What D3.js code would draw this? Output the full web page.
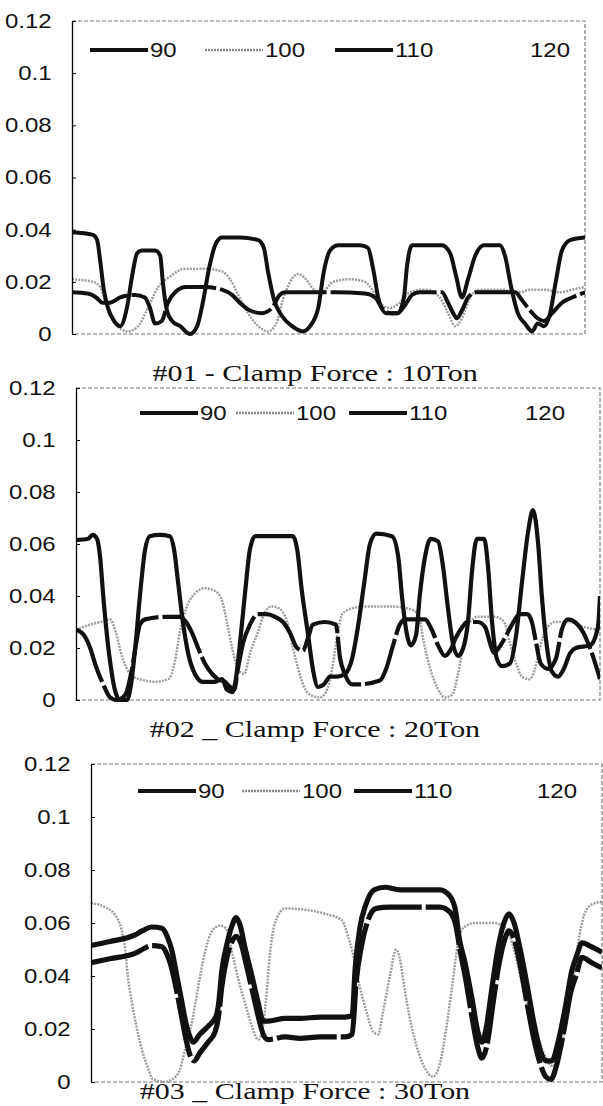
<!DOCTYPE html>
<html>
<head>
<meta charset="utf-8">
<script src="https://cdn.jsdelivr.net/npm/d3@7"></script>
<style>
  body { margin: 0; background: #fff; }
  svg { display: block; }
</style>
</head>
<body>
<div id="chart"></div>
<script>
// y axis ticks (shared by all three panels)
const yTicks = [0, 0.02, 0.04, 0.06, 0.08, 0.1, 0.12];
const tickLabels = ["0", "0.02", "0.04", "0.06", "0.08", "0.1", "0.12"];
const seriesNames = ["90", "100", "110", "120"];
const titles = ["#01 - Clamp Force : 10Ton", "#02 _ Clamp Force : 20Ton", "#03 _ Clamp Force : 30Ton"];

// panel 1 (10 Ton) - x is sample position 0..100
const p1s90 = [[0,0.039],[4.1,0.038],[4.9,0.036],[5.5,0.028],[6.2,0.017],[7.0,0.010],[8.2,0.005],[9.4,0.003],[10.7,0.010],[11.7,0.022],[12.7,0.031],[13.6,0.032],[16.2,0.032],[17.2,0.030],[17.7,0.020],[18.5,0.009],[19.5,0.005],[21.1,0.003],[23.0,0.000],[24.4,0.003],[25.5,0.012],[26.7,0.025],[27.9,0.034],[29.2,0.037],[32.7,0.037],[36.3,0.036],[37.4,0.033],[38.2,0.024],[39.4,0.013],[40.9,0.007],[42.9,0.003],[45.0,0.001],[46.4,0.003],[48.0,0.010],[49.1,0.024],[50.3,0.032],[51.9,0.034],[56.1,0.034],[57.7,0.033],[58.7,0.025],[59.8,0.013],[61.2,0.008],[63.5,0.008],[64.7,0.014],[65.3,0.026],[66.3,0.034],[72.1,0.034],[73.7,0.031],[74.9,0.022],[76.0,0.014],[77.2,0.021],[78.6,0.030],[80.3,0.034],[83.4,0.034],[84.4,0.030],[85.6,0.018],[86.9,0.008],[88.3,0.004],[89.7,0.001],[90.8,0.004],[92.0,0.003],[93.2,0.008],[94.3,0.020],[95.5,0.032],[97.1,0.036],[100,0.037]];
const p1s100 = [[0,0.021],[4.1,0.020],[5.5,0.018],[6.6,0.012],[8.0,0.005],[9.4,0.002],[10.9,0.001],[12.9,0.003],[14.8,0.010],[16.8,0.018],[19.1,0.022],[22.0,0.025],[25.9,0.025],[29.2,0.024],[30.8,0.021],[32.4,0.015],[34.3,0.008],[36.3,0.003],[38.2,0.001],[39.8,0.004],[41.1,0.013],[42.5,0.020],[44.1,0.023],[45.6,0.021],[47.2,0.017],[48.7,0.016],[50.9,0.020],[54.2,0.021],[57.1,0.020],[58.5,0.017],[60.0,0.012],[62.0,0.010],[63.9,0.012],[65.9,0.016],[68.8,0.017],[71.7,0.014],[73.3,0.008],[74.7,0.003],[76.0,0.006],[77.6,0.014],[79.5,0.017],[83.4,0.017],[87.3,0.016],[89.3,0.017],[92.2,0.017],[95.1,0.016],[97.5,0.017],[100,0.018]];
const p1s110 = [[0,0.016],[3.1,0.0155],[4.7,0.014],[6.0,0.012],[7.4,0.012],[9.4,0.014],[12.3,0.015],[14.2,0.014],[15.2,0.010],[16.2,0.004],[17.5,0.005],[18.7,0.012],[20.1,0.016],[22.2,0.018],[25.9,0.018],[29.2,0.017],[31.2,0.015],[32.7,0.012],[34.7,0.009],[37.0,0.008],[39.0,0.010],[40.5,0.015],[41.5,0.016],[48.3,0.016],[51.3,0.016],[57.1,0.0155],[59.1,0.014],[60.4,0.010],[62.0,0.008],[63.5,0.008],[64.9,0.011],[66.3,0.015],[67.8,0.016],[72.1,0.016],[73.3,0.012],[74.3,0.008],[75.0,0.006],[76.0,0.009],[77.2,0.014],[78.8,0.016],[86.4,0.016],[87.7,0.013],[89.3,0.009],[90.8,0.006],[92.0,0.005],[93.6,0.008],[95.5,0.012],[97.5,0.014],[100,0.016]];

// panel 2 (20 Ton)
const p2s90 = [[0,0.0615],[2.3,0.062],[3.2,0.0635],[4.0,0.062],[4.6,0.055],[5.2,0.040],[5.9,0.025],[6.7,0.012],[7.4,0.004],[8.4,0.000],[9.7,0.000],[10.5,0.006],[11.3,0.020],[12.2,0.040],[13.2,0.058],[14.1,0.063],[16.0,0.0635],[17.9,0.063],[18.7,0.058],[19.5,0.045],[20.4,0.030],[21.4,0.018],[22.7,0.010],[24.2,0.007],[26.5,0.007],[27.9,0.008],[28.8,0.004],[29.8,0.003],[30.5,0.008],[31.3,0.022],[32.3,0.042],[33.2,0.058],[34.2,0.063],[41.4,0.063],[42.2,0.058],[43.1,0.042],[44.3,0.025],[45.2,0.012],[46.2,0.005],[47.3,0.006],[48.5,0.009],[49.8,0.009],[51.3,0.010],[52.7,0.016],[53.8,0.028],[55.0,0.045],[56.1,0.060],[57.3,0.064],[60.3,0.063],[61.5,0.055],[62.2,0.040],[63.0,0.027],[63.9,0.021],[64.9,0.025],[65.6,0.040],[66.6,0.055],[67.7,0.062],[69.1,0.061],[70.0,0.052],[71.0,0.035],[71.9,0.022],[72.9,0.017],[73.9,0.020],[74.8,0.030],[75.6,0.050],[76.5,0.062],[77.9,0.062],[78.6,0.052],[79.4,0.030],[80.3,0.016],[81.3,0.013],[82.8,0.014],[84.0,0.025],[85.1,0.045],[86.3,0.065],[87.2,0.073],[88.2,0.060],[88.9,0.040],[89.9,0.020],[90.8,0.011],[92.0,0.009],[93.1,0.012],[94.3,0.018],[95.4,0.020],[98.1,0.021],[99.6,0.028],[100,0.040]];
const p2s100 = [[0,0.027],[2.7,0.029],[4.6,0.030],[6.5,0.031],[7.6,0.026],[8.6,0.018],[9.7,0.012],[10.9,0.009],[12.2,0.008],[15.1,0.007],[17.6,0.008],[18.9,0.015],[19.8,0.026],[21.0,0.035],[22.7,0.041],[24.6,0.043],[26.5,0.042],[27.9,0.038],[28.8,0.030],[29.8,0.020],[30.9,0.012],[32.1,0.010],[33.2,0.018],[34.7,0.026],[36.1,0.034],[37.4,0.036],[38.9,0.035],[40.3,0.030],[41.4,0.020],[42.4,0.012],[43.5,0.005],[44.7,0.002],[46.6,0.001],[47.7,0.003],[48.9,0.012],[49.8,0.024],[50.8,0.033],[52.3,0.035],[55.2,0.036],[59.9,0.036],[63.7,0.035],[65.3,0.033],[66.4,0.022],[67.6,0.012],[68.9,0.005],[70.4,0.001],[71.8,0.002],[72.9,0.010],[74.0,0.022],[75.2,0.030],[76.7,0.032],[80.0,0.032],[81.7,0.030],[82.8,0.022],[84.0,0.014],[85.1,0.009],[86.5,0.008],[87.6,0.012],[88.5,0.020],[89.7,0.027],[91.4,0.030],[94.3,0.030],[97.1,0.028],[100,0.027]];
const p2s110 = [[0,0.027],[1.5,0.025],[2.7,0.020],[3.8,0.013],[5.2,0.006],[6.5,0.001],[7.8,0.000],[9.4,0.002],[10.5,0.010],[11.5,0.022],[12.2,0.029],[13.2,0.031],[17.0,0.032],[19.8,0.032],[21.0,0.030],[22.1,0.026],[23.3,0.020],[24.6,0.014],[26.0,0.010],[27.1,0.008],[28.4,0.007],[29.4,0.005],[30.2,0.004],[30.9,0.012],[31.9,0.022],[33.2,0.029],[34.7,0.033],[36.3,0.033],[38.0,0.032],[39.5,0.030],[40.8,0.026],[42.2,0.020],[43.3,0.019],[44.3,0.024],[45.2,0.029],[47.5,0.030],[49.6,0.029],[50.4,0.016],[51.3,0.010],[52.7,0.006],[53.8,0.006],[58.0,0.0075],[59.2,0.012],[60.5,0.021],[61.8,0.029],[62.8,0.031],[66.6,0.031],[67.9,0.027],[69.1,0.021],[70.4,0.017],[71.4,0.019],[72.5,0.024],[73.7,0.028],[74.6,0.030],[76.7,0.030],[78.1,0.028],[79.0,0.022],[79.8,0.018],[80.3,0.019],[81.9,0.024],[83.2,0.029],[84.7,0.033],[86.1,0.033],[87.0,0.030],[87.8,0.022],[88.7,0.014],[90.1,0.012],[91.6,0.016],[92.7,0.027],[93.9,0.031],[95.2,0.030],[96.8,0.026],[98.1,0.020],[100,0.008]];

// panel 3 (30 Ton)
const p3s90 = [[0,0.0515],[3.7,0.053],[8.6,0.0555],[10.0,0.057],[11.9,0.0585],[13.9,0.058],[14.9,0.055],[15.9,0.049],[16.8,0.040],[17.8,0.030],[18.6,0.022],[19.2,0.018],[20.0,0.015],[21.3,0.018],[22.9,0.021],[24.5,0.025],[25.0,0.030],[25.6,0.042],[26.6,0.052],[27.6,0.059],[28.4,0.062],[29.2,0.059],[30.1,0.051],[31.5,0.040],[32.7,0.030],[33.7,0.023],[34.6,0.023],[38.0,0.024],[40.9,0.024],[44.8,0.0245],[49.7,0.0245],[51.1,0.025],[51.7,0.043],[52.6,0.058],[53.8,0.067],[55.4,0.0725],[57.5,0.0735],[60.5,0.0725],[68.3,0.0725],[70.3,0.070],[71.4,0.064],[72.0,0.055],[73.2,0.045],[74.6,0.031],[75.7,0.019],[76.5,0.015],[77.3,0.020],[78.5,0.036],[79.6,0.050],[80.8,0.060],[81.8,0.0635],[82.8,0.060],[84.0,0.050],[85.3,0.037],[86.7,0.022],[87.9,0.012],[89.0,0.008],[90.2,0.008],[91.4,0.015],[92.8,0.028],[94.1,0.042],[95.1,0.048],[96.1,0.0525],[98.0,0.051],[100,0.049]];
const p3s100 = [[0,0.0675],[2.7,0.066],[4.7,0.063],[5.9,0.058],[6.7,0.050],[7.2,0.040],[8.0,0.030],[9.0,0.020],[10.0,0.012],[11.2,0.005],[12.1,0.001],[14.5,0.000],[17.0,0.003],[18.4,0.012],[19.8,0.023],[20.9,0.035],[22.3,0.049],[23.7,0.057],[25.2,0.059],[26.4,0.058],[27.6,0.049],[28.8,0.039],[30.1,0.030],[31.5,0.021],[32.7,0.016],[33.5,0.019],[34.2,0.030],[35.0,0.048],[36.0,0.060],[38.0,0.0655],[41.9,0.065],[45.8,0.0635],[49.1,0.061],[50.3,0.055],[51.3,0.048],[52.6,0.036],[54.0,0.026],[55.2,0.019],[56.2,0.018],[57.1,0.026],[58.5,0.040],[59.7,0.050],[60.5,0.046],[61.3,0.036],[62.4,0.024],[63.8,0.013],[65.4,0.005],[66.9,0.002],[68.3,0.007],[69.5,0.020],[70.6,0.035],[71.8,0.052],[72.8,0.058],[75.1,0.060],[78.7,0.060],[81.2,0.058],[82.8,0.050],[84.0,0.040],[85.5,0.028],[87.3,0.018],[88.8,0.010],[90.4,0.006],[91.8,0.012],[93.2,0.025],[94.3,0.038],[95.3,0.052],[96.5,0.063],[98.0,0.067],[100,0.068]];
const p3s110 = [[0,0.045],[3.7,0.0465],[8.6,0.0485],[10.0,0.050],[11.9,0.0515],[13.9,0.051],[14.9,0.048],[15.9,0.042],[16.8,0.034],[17.8,0.024],[18.6,0.016],[19.4,0.010],[20.2,0.008],[21.3,0.011],[22.9,0.015],[24.3,0.019],[24.9,0.024],[25.6,0.036],[26.6,0.047],[27.6,0.053],[28.4,0.055],[29.4,0.052],[30.3,0.045],[31.5,0.035],[32.7,0.025],[33.7,0.018],[34.6,0.016],[38.0,0.017],[40.9,0.0165],[44.8,0.017],[49.7,0.017],[51.1,0.018],[51.9,0.038],[53.0,0.052],[54.2,0.061],[55.8,0.0655],[58.5,0.066],[68.3,0.066],[70.3,0.064],[71.4,0.059],[72.2,0.050],[73.4,0.038],[74.6,0.024],[75.7,0.013],[76.5,0.009],[77.5,0.014],[78.7,0.030],[79.8,0.044],[81.0,0.054],[81.8,0.057],[82.8,0.054],[84.0,0.044],[85.3,0.030],[86.7,0.016],[87.9,0.007],[89.0,0.002],[90.0,0.001],[91.2,0.007],[92.6,0.020],[93.9,0.034],[94.9,0.040],[96.1,0.047],[98.0,0.045],[100,0.043]];

const panelData = [
  [p1s90, p1s100, p1s110, []],
  [p2s90, p2s100, p2s110, []],
  [p3s90, p3s100, p3s110, []]
];

// layout of each panel in the 603x1106 page
const panels = [
  { left: 72, right: 585, top: 21, bottom: 334, titleX: 315, titleY: 381, legendY: 50, legendX: [18, 133, 263, 398], lw: 4 },
  { left: 76, right: 600, top: 388, bottom: 700, titleX: 315, titleY: 737, legendY: 413, legendX: [64, 160, 273, 389], lw: 4.2 },
  { left: 91, right: 602, top: 764, bottom: 1082, titleX: 305, titleY: 1099, legendY: 791, legendX: [47, 151, 263, 386], lw: 5.2 }
];

const colors = ["#111", "#9c9c9c", "#111", "#fff"];
const dashes = [null, "2,1.2", "60,4", null];
const stretch = 1.2;

const svg = d3.select("#chart").append("svg")
  .attr("width", 603)
  .attr("height", 1106);

panels.forEach((p, pi) => {
  const x = d3.scaleLinear().domain([0, 100]).range([p.left, p.right]);
  const y = d3.scaleLinear().domain([0, 0.12]).range([p.bottom, p.top]);
  const g = svg.append("g");

  g.append("clipPath").attr("id", "clip" + pi)
    .append("rect")
    .attr("x", p.left).attr("y", p.top - 2)
    .attr("width", p.right - p.left).attr("height", p.bottom - p.top + 4);

  // frame (top, right, bottom), dotted grey
  g.append("path")
    .attr("d", `M${p.left},${p.top}H${p.right}V${p.bottom}H${p.left}`)
    .attr("fill", "none")
    .attr("stroke", "#777")
    .attr("stroke-width", 1.2)
    .attr("stroke-dasharray", "4,2");

  const line = d3.line()
    .x(d => x(d[0]))
    .y(d => y(d[1]))
    .curve(d3.curveMonotoneX);

  const plot = g.append("g").attr("clip-path", `url(#clip${pi})`);
  // grey first, then the two black series on top
  [1, 2, 0].forEach(si => {
    const data = panelData[pi][si];
    if (!data.length) return;
    plot.append("path")
      .datum(data)
      .attr("d", line)
      .attr("fill", "none")
      .attr("stroke", colors[si])
      .attr("stroke-width", si === 1 ? 2.5 : p.lw)
      .attr("stroke-dasharray", dashes[si])
      .attr("stroke-linejoin", "round");
  });

  // y axis
  const axis = g.append("g")
    .attr("transform", `translate(${p.left},0)`)
    .call(d3.axisLeft(y)
      .tickValues(yTicks)
      .tickFormat((d, i) => tickLabels[i])
      .tickSizeInner(-4)
      .tickSizeOuter(0)
      .tickPadding(17));
  axis.select(".domain").attr("stroke", "#000").attr("stroke-width", 1.3);
  axis.selectAll(".tick line").attr("stroke", "#000");
  axis.selectAll(".tick text")
    .attr("font-family", "'Liberation Sans', Arial, sans-serif")
    .attr("font-size", 20)
    .attr("fill", "#111")
    .attr("transform", `scale(${stretch},1)`);

  // legend
  seriesNames.forEach((name, si) => {
    const lx = p.left + p.legendX[si];
    g.append("line")
      .attr("x1", lx).attr("x2", lx + 58)
      .attr("y1", p.legendY).attr("y2", p.legendY)
      .attr("stroke", si === 1 ? "#8a8a8a" : colors[si])
      .attr("stroke-width", si === 1 ? 2.5 : 4)
      .attr("stroke-dasharray", si === 1 ? "2,1" : null);
    g.append("text")
      .attr("transform", `translate(${lx + 60},${p.legendY + 7}) scale(${stretch},1)`)
      .attr("font-family", "'Liberation Sans', Arial, sans-serif")
      .attr("font-size", 20)
      .attr("fill", "#111")
      .text(name);
  });

  // caption under the panel
  svg.append("text")
    .attr("transform", `translate(${p.titleX},${p.titleY}) scale(1.25,1)`)
    .attr("text-anchor", "middle")
    .attr("font-family", "'Liberation Serif', 'Times New Roman', serif")
    .attr("font-size", 24)
    .attr("fill", "#111")
    .text(titles[pi]);
});
</script>
</body>
</html>
